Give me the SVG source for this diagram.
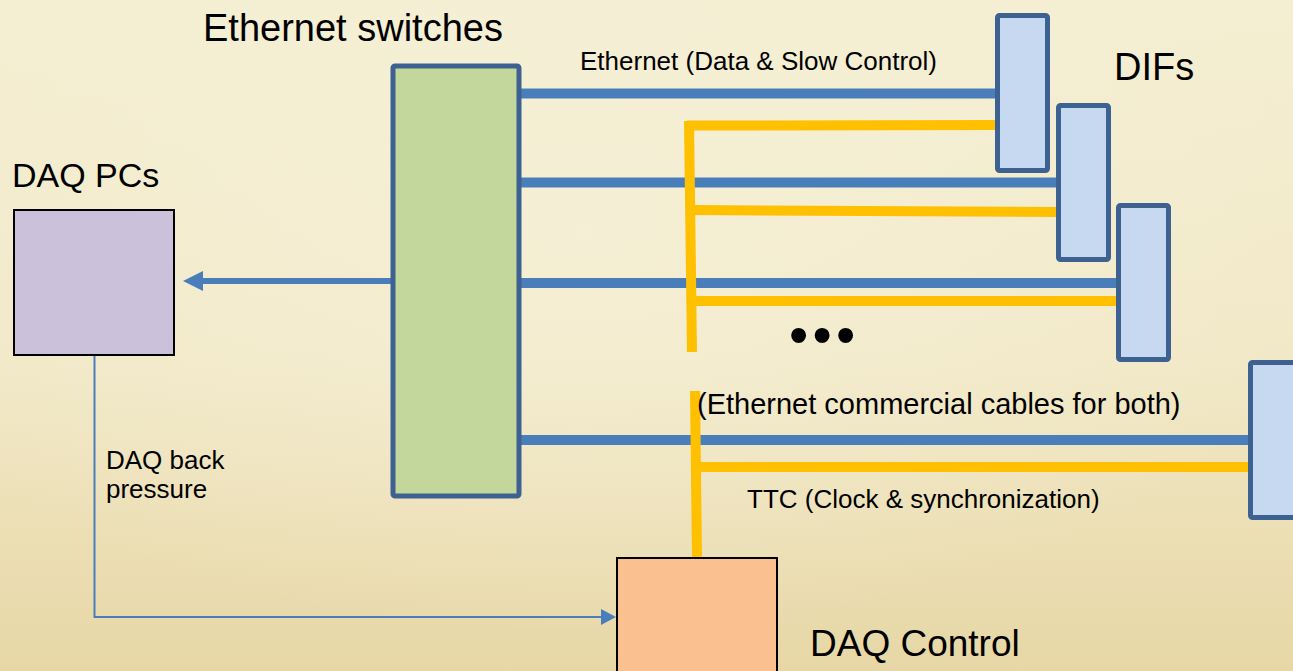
<svg xmlns="http://www.w3.org/2000/svg" width="1293" height="671" viewBox="0 0 1293 671">
  <defs>
    <linearGradient id="bg" x1="0" y1="0" x2="0" y2="1">
      <stop offset="0" stop-color="#F4EED2"/>
      <stop offset="0.55" stop-color="#F1E8C6"/>
      <stop offset="1" stop-color="#E7D7A6"/>
    </linearGradient>
    <radialGradient id="glow" cx="0.45" cy="0.35" r="0.6">
      <stop offset="0" stop-color="#F7F2DC" stop-opacity="0.6"/>
      <stop offset="1" stop-color="#F7F2DC" stop-opacity="0"/>
    </radialGradient>
    <marker id="arrBig" markerUnits="userSpaceOnUse" viewBox="0 0 20 20" markerWidth="20" markerHeight="20" refX="0" refY="10" orient="auto">
      <path d="M0,0 L20,10 L0,20 z" fill="#4A7EBB"/>
    </marker>
    <marker id="arrSmall" markerUnits="userSpaceOnUse" viewBox="0 0 15 16" markerWidth="15" markerHeight="16" refX="0" refY="8" orient="auto">
      <path d="M0,0 L15,8 L0,16 z" fill="#4A7EBB"/>
    </marker>
  </defs>
  <style>
    .big { font-family: "Liberation Sans", Arial, sans-serif; font-size: 38px; fill: #000; }
    .small { font-family: "Liberation Sans", Arial, sans-serif; font-size: 26px; fill: #000; }
    .dif { fill: #C6D9F1; stroke: #3D6191; stroke-width: 5; }
    .blue { stroke: #4A7EBB; stroke-width: 10; fill: none; }
    .yellow { stroke: #FFC000; stroke-width: 10; fill: none; }
  </style>

  <rect x="0" y="0" width="1293" height="671" fill="url(#bg)"/>
  <rect x="0" y="0" width="1293" height="671" fill="url(#glow)"/>

  <g id="connectors">
    <!-- Ethernet (blue) lines -->
    <line class="blue" x1="519" y1="93.5" x2="997" y2="93.5"/>
    <line class="blue" x1="519" y1="182.5" x2="1058" y2="182.5"/>
    <line class="blue" x1="519" y1="283" x2="1118" y2="283"/>
    <line class="blue" x1="519" y1="440" x2="1250" y2="440"/>
    <!-- TTC (yellow) lines -->
    <line class="yellow" x1="687" y1="125.5" x2="997" y2="125"/>
    <line class="yellow" x1="689" y1="121" x2="692" y2="352"/>
    <line class="yellow" x1="690" y1="210" x2="1058" y2="212"/>
    <line class="yellow" x1="692" y1="301" x2="1118" y2="301"/>
    <line class="yellow" x1="695" y1="391" x2="697" y2="558"/>
    <line class="yellow" x1="697" y1="467" x2="1250" y2="467"/>
    <!-- Switch to DAQ PCs -->
    <line x1="391" y1="281" x2="203" y2="281" stroke="#4A7EBB" stroke-width="6" marker-end="url(#arrBig)"/>
    <!-- DAQ back pressure -->
    <path d="M94.5,355 V617 H601" fill="none" stroke="#4A7EBB" stroke-width="2" marker-end="url(#arrSmall)"/>
  </g>

  <g id="switch">
    <rect x="393" y="66" width="126" height="430" rx="2" fill="#C3D69B" stroke="#3D6191" stroke-width="5"/>
    <text class="big" x="203" y="41">Ethernet switches</text>
  </g>

  <g id="daq-pcs">
    <rect x="14" y="210" width="160" height="145" fill="#CCC1DA" stroke="#000" stroke-width="2"/>
    <text class="big" x="12" y="187" style="font-size:34px">DAQ PCs</text>
  </g>

  <g id="dif1"><rect class="dif" x="997.5" y="15.5" width="50" height="155" rx="2"/></g>
  <g id="dif2"><rect class="dif" x="1058.5" y="105.5" width="50" height="154" rx="2"/></g>
  <g id="dif3"><rect class="dif" x="1118.5" y="205.5" width="50" height="154" rx="2"/></g>
  <g id="dif4"><rect class="dif" x="1250.5" y="362.5" width="50" height="155" rx="2"/></g>
  <g id="difs-label"><text class="big" x="1114" y="80">DIFs</text></g>

  <g id="daq-control">
    <rect x="617" y="558" width="160" height="130" fill="#FAC090" stroke="#000" stroke-width="2"/>
    <text class="big" x="810" y="656" style="font-size:37px">DAQ Control</text>
  </g>

  <g id="labels">
    <text class="small" x="580" y="70">Ethernet (Data &amp; Slow Control)</text>
    <text class="small" x="106" y="469">DAQ back</text>
    <text class="small" x="106" y="498">pressure</text>
    <text class="small" x="747" y="508">TTC (Clock &amp; synchronization)</text>
    <text class="small" x="697" y="414" style="font-size:29px">(Ethernet commercial cables for both)</text>
    <text class="big" x="789" y="354" style="font-size:55px;letter-spacing:4.3px">•••</text>
  </g>
</svg>
